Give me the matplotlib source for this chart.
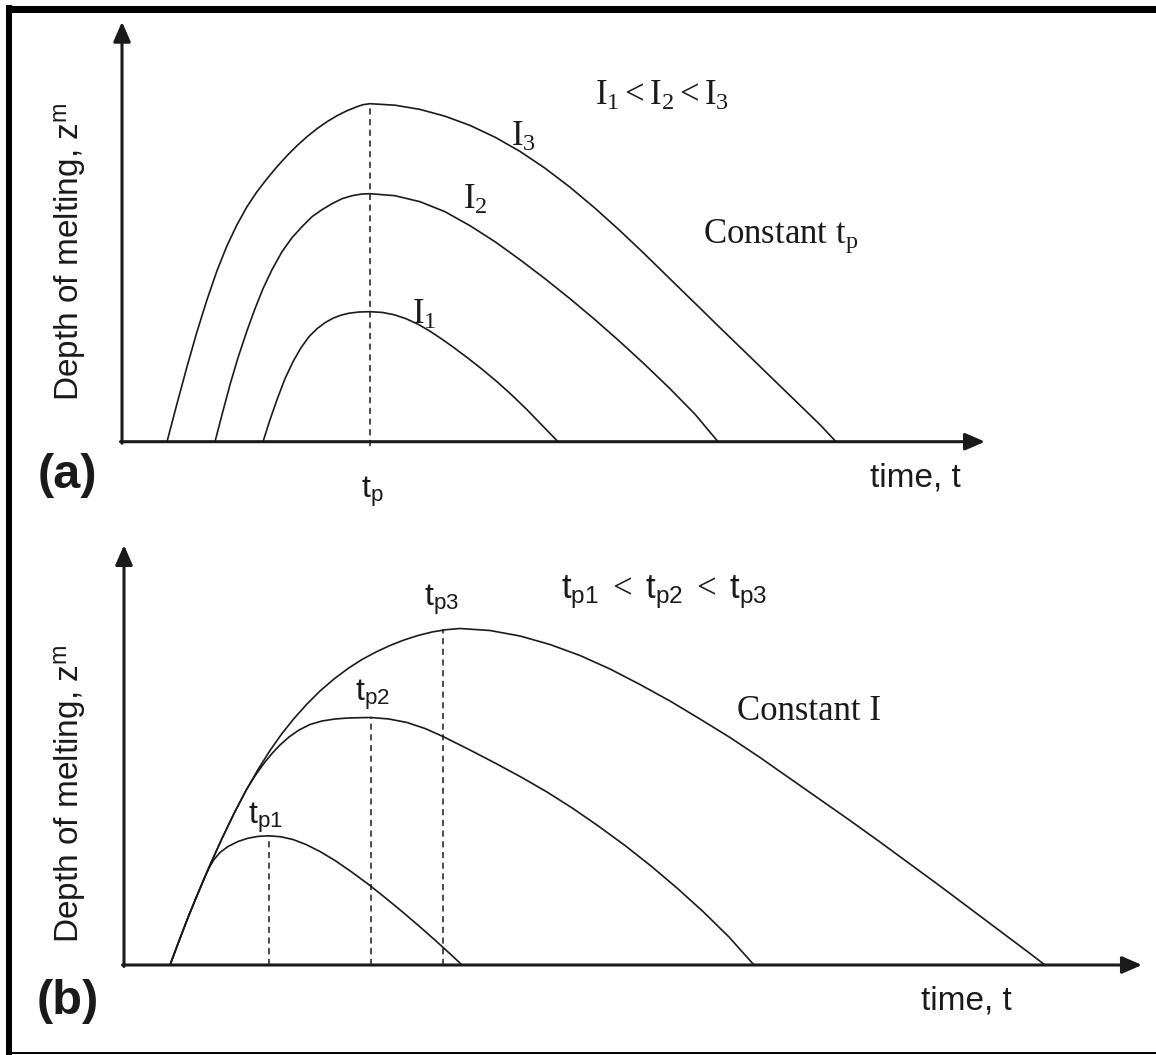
import matplotlib.pyplot as plt
from matplotlib.lines import Line2D

plt.rcParams['font.family'] = ['Liberation Sans', 'DejaVu Sans']
plt.rcParams['mathtext.fontset'] = 'custom'
plt.rcParams['mathtext.rm'] = 'Liberation Serif'
plt.rcParams['mathtext.sf'] = 'Liberation Sans'
plt.rcParams['mathtext.it'] = 'Liberation Serif:italic'

# ---- panel (a): constant t_p, three intensities (arbitrary units) ----
a_t3 = [45, 55, 65, 75, 85, 95, 105, 115, 125, 135, 145, 155, 165, 175, 185, 195, 205,
        215, 225, 235, 241, 248, 273, 298, 323, 348, 373, 398, 423, 448, 473, 498, 523,
        548, 573, 598, 623, 648, 673, 698, 714]
a_z3 = [0, 38, 75, 110, 142, 171, 196, 217, 235, 250, 263, 275, 286, 296, 305, 313, 320,
        326, 331, 335, 337, 338, 336.5, 332.3, 325.5, 316.3, 304.5, 290.3, 273.5, 254.5,
        233.5, 211, 187.3, 162.8, 138.5, 114, 89.8, 65.5, 41.3, 17, 0]
a_t2 = [93, 100, 108, 116, 125, 133, 141, 150, 160, 170, 180, 190, 200, 210, 220, 230,
        240, 248, 273, 298, 323, 348, 373, 398, 423, 448, 473, 498, 523, 548, 573, 596]
a_z2 = [0, 27, 57, 84, 111, 133, 153, 172, 190, 204, 215, 225, 232, 238, 243, 246,
        247.7, 248, 246, 240, 230, 216, 200, 182, 163, 143, 122, 100, 77, 53, 27.5, 0]
a_t1 = [141, 148, 155, 163, 171, 179, 187, 195, 203, 211, 219, 227, 237, 248, 260, 272,
        284, 296, 308, 320, 332, 346, 360, 375, 390, 405, 420, 436]
a_z1 = [0, 22, 42, 63, 80, 94, 105, 113, 119, 123.5, 126.5, 128.5, 129.7, 130, 129.3,
        127, 123, 117.5, 110.5, 102.5, 94, 83.5, 72.5, 60, 46.5, 32, 16.5, 0]
a_tp = 248
a_tp_top = 338

# ---- panel (b): constant I, three pulse times ----
b_t3 = [46, 55, 64, 72, 80, 86, 98, 110, 122, 134, 146, 158, 170, 183, 196, 210, 224,
        238, 252, 266, 280, 294, 308, 322, 336, 366, 396, 426, 456, 486, 516, 546, 576,
        606, 636, 666, 696, 726, 756, 786, 816, 846, 876, 906, 921]
b_z3 = [0, 24, 47.5, 67, 86, 100, 126.5, 151.5, 174.5, 195.5, 214.5, 231.5, 246.5, 261,
        274, 286, 296.5, 305.5, 313, 319.5, 325, 329.5, 333, 335.3, 336.5, 334.5, 329,
        320.5, 309.5, 296, 280.5, 264, 246, 227.5, 207.5, 186.5, 165.5, 144.5, 123, 101,
        79, 56.5, 34, 11.5, 0]
b_t2 = [46, 55, 64, 72, 80, 86, 98, 110, 122, 128, 134, 141, 148, 156, 165, 175, 186,
        198, 211, 224, 236, 247, 265, 283, 301, 319, 345, 371, 397, 423, 449, 475, 501,
        527, 553, 579, 605, 630]
b_z2 = [0, 24, 47.5, 67, 86, 100, 126.5, 151.5, 174.5, 184.5, 193.5, 203, 211.5, 220,
        228, 235, 240.5, 244, 246, 247, 247.3, 247.5, 246, 242.5, 236.5, 228.5, 215.5,
        202, 188, 173, 156.5, 138.5, 119.5, 99, 77, 53.5, 28, 0]
b_t1 = [46, 55, 64, 72, 80, 85, 90, 96, 104, 114, 124, 134, 145, 157, 169, 182, 196,
        211, 227, 244, 261, 278, 295, 312, 329, 338]
b_z1 = [0, 24, 47.5, 67, 86, 97, 105.5, 112.5, 118.5, 123.5, 126.8, 128.6, 129.2, 128.2,
        125.5, 120.5, 113.5, 104.5, 93.5, 81, 67.5, 53.5, 39, 24, 8.5, 0]
b_tp = [145, 247, 319]
b_tp_top = [129.2, 247.5, 336]

W, H = 1156, 1055
INK = '#1a1a1a'
fig = plt.figure(figsize=(W / 100, H / 100), dpi=100)


def make_axes(left, origin_y, right, top):
    ax = fig.add_axes([left / W, 1 - origin_y / H, (right - left) / W, (origin_y - top) / H])
    ax.set_xlim(0, right - left)
    ax.set_ylim(0, origin_y - top)
    ax.axis('off')
    return ax


def draw_arrows(ax, tmax, zmax):
    props = dict(arrowstyle='-|>,head_length=0.6,head_width=0.26', lw=2.2, color=INK,
                 shrinkA=0, shrinkB=0, mutation_scale=20)
    ax.annotate('', xy=(tmax, 0), xytext=(-1.5, 0), arrowprops=props, annotation_clip=False)
    ax.annotate('', xy=(0, zmax), xytext=(0, -1.5), arrowprops=props, annotation_clip=False)


curve = dict(color=INK, lw=1.2, clip_on=False)
dash = dict(color=INK, lw=1.1, ls=(0, (4, 3)), clip_on=False)
serif = dict(fontfamily='Liberation Serif', fontsize=25, color=INK)
sans = dict(fontsize=24, color=INK)

# panel (a)
ax = make_axes(122, 441.7, 1000, 15)
draw_arrows(ax, 863, 420)
ax.plot(a_t3, a_z3, **curve)
ax.plot(a_t2, a_z2, **curve)
ax.plot(a_t1, a_z1, **curve)
ax.plot([a_tp, a_tp], [-4, a_tp_top], **dash)
ax.text(540, 345, r'$\mathrm{I}_1 < \mathrm{I}_2 < \mathrm{I}_3$', ha='center', va='center', **serif)
ax.text(401, 304, r'$\mathrm{I}_3$', ha='center', va='center', **serif)
ax.text(353, 241, r'$\mathrm{I}_2$', ha='center', va='center', **serif)
ax.text(302, 126, r'$\mathrm{I}_1$', ha='center', va='center', **serif)
ax.text(581, 199, r'Constant $\mathrm{t}_\mathrm{p}$', ha='left', va='baseline', **serif)
ax.text(a_tp + 2, -56, r'$\mathsf{t}_\mathsf{p}$', ha='center', va='baseline', fontsize=23, color=INK)
ax.text(-55, -34, '(a)', ha='center', va='center', fontsize=35, fontweight='bold', color=INK)
ax.text(748, -36, 'time, t', ha='left', va='center', **sans)
ax.text(-52, 190, r'Depth of melting, $\mathsf{z}^\mathsf{m}$', rotation=90,
        ha='center', va='center', **sans)

# panel (b)
ax = make_axes(124, 965, 1150, 530)
draw_arrows(ax, 1018, 420)
ax.plot(b_t3, b_z3, **curve)
ax.plot(b_t2, b_z2, **curve)
ax.plot(b_t1, b_z1, **curve)
for t, z in zip(b_tp, b_tp_top):
    ax.plot([t, t], [0, z], **dash)
ax.text(540, 373, r'$\mathsf{t}_\mathsf{p1}\ <\ \mathsf{t}_\mathsf{p2}\ <\ \mathsf{t}_\mathsf{p3}$',
        ha='center', va='center', fontsize=25, color=INK)
ax.text(318, 365, r'$\mathsf{t}_\mathsf{p3}$', ha='center', va='center', fontsize=23, color=INK)
ax.text(248, 270, r'$\mathsf{t}_\mathsf{p2}$', ha='center', va='center', fontsize=23, color=INK)
ax.text(141, 147, r'$\mathsf{t}_\mathsf{p1}$', ha='center', va='center', fontsize=23, color=INK)
ax.text(613, 245, 'Constant I', ha='left', va='baseline', **serif)
ax.text(-56, -37, '(b)', ha='center', va='center', fontsize=35, fontweight='bold', color=INK)
ax.text(797, -36, 'time, t', ha='left', va='center', **sans)
ax.text(-54, 171, r'Depth of melting, $\mathsf{z}^\mathsf{m}$', rotation=90,
        ha='center', va='center', **sans)

# frame around the whole figure
frame = dict(transform=fig.transFigure, color='black', solid_capstyle='butt')
fig.add_artist(Line2D([9 / W, 9 / W], [0, 1 - 5 / H], lw=6 * 0.72, **frame))
fig.add_artist(Line2D([6 / W, 1], [1 - 8.5 / H, 1 - 8.5 / H], lw=7 * 0.72, **frame))
fig.add_artist(Line2D([6 / W, 1], [1 - 1053 / H, 1 - 1053 / H], lw=2 * 0.72, **frame))

fig.savefig('out.png', dpi=100, facecolor='white')
